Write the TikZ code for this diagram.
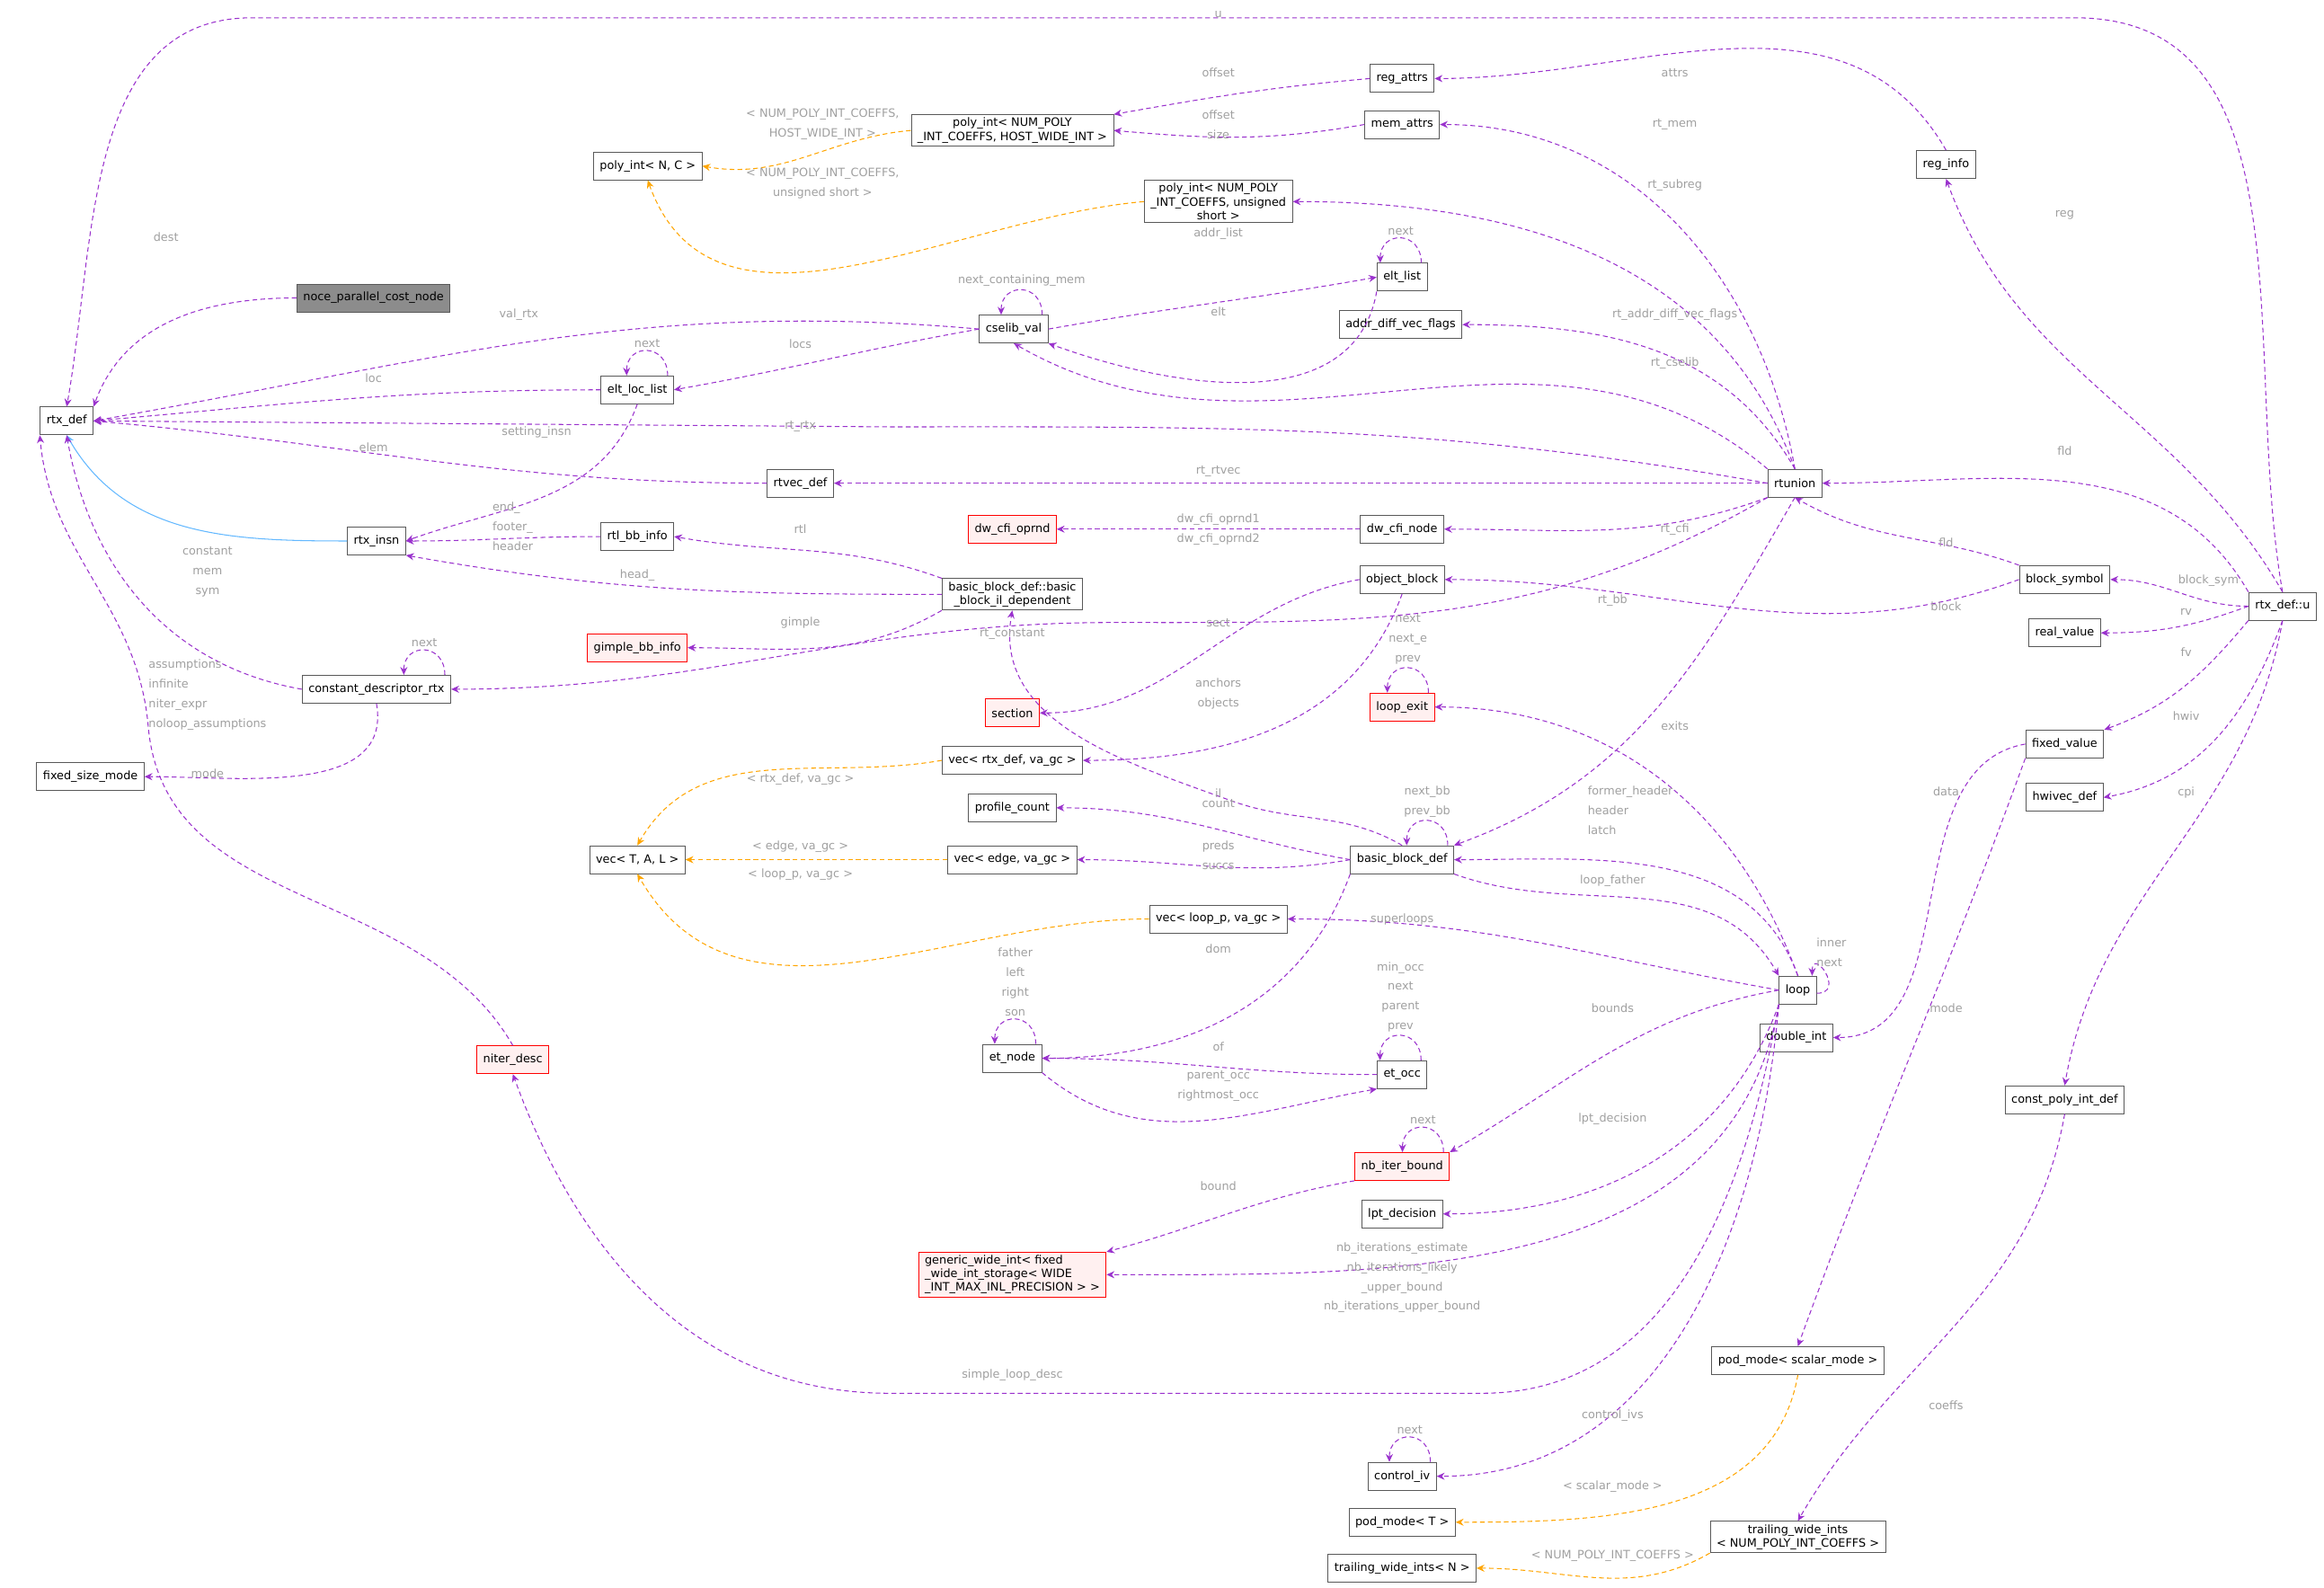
\documentclass[tikz,border=0pt]{standalone}
\usepackage{fontspec}
\setmainfont{DejaVu Sans}
\usetikzlibrary{arrows.meta}
\definecolor{usecol}{HTML}{9A32CD}
\definecolor{tplcol}{HTML}{FFA500}
\definecolor{inhcol}{HTML}{63B8FF}
\definecolor{lblcol}{HTML}{A0A0A0}
\tikzset{
  cls/.style={draw=black!65, line width=0.5pt, fill=white, inner xsep=4pt, inner ysep=2pt,
    minimum height=0.62cm, align=center, font=\fontsize{7.3}{8.6}\selectfont},
  bad/.style={cls, draw=red, fill=red!6},
  use/.style={densely dashed, draw=usecol, line width=0.6pt, -{Stealth[length=5pt,width=4.5pt]}},
  tpl/.style={use, draw=tplcol},
  inh/.style={draw=inhcol, line width=0.6pt, -{Stealth[length=5pt,width=4.5pt]}},
  lbl/.style={text=lblcol, align=center, inner sep=0pt, font=\fontsize{7.3}{12.5}\selectfont},
}
\newcommand{\selfloop}[2]{%
  \draw[use] ([xshift=-4pt]#1.north east) .. controls +(0,-22) and +(0,-22) .. ([xshift=-30pt]#1.north east)
    node[lbl, pos=0.5, anchor=south, yshift=2pt] {#2};}
\begin{document}
\begin{tikzpicture}[x=0.033cm,y=-0.033cm]
\useasboundingbox (0,0) rectangle (1568,1071);
% classes
\node[cls] (rtxdef) at (45,284) {rtx\_def};
\node[cls, fill=black!45] (noce) at (252,201) {noce\_parallel\_cost\_node};
\node[cls] (polyNC) at (437,112) {poly\_int< N, C >};
\node[cls] (polyhwi) at (683,88) {poly\_int< NUM\_POLY\\\_INT\_COEFFS, HOST\_WIDE\_INT >};
\node[cls] (regattrs) at (946,53) {reg\_attrs};
\node[cls] (memattrs) at (946,84) {mem\_attrs};
\node[cls] (polyus) at (822,136) {poly\_int< NUM\_POLY\\\_INT\_COEFFS, unsigned\\short >};
\node[cls] (reginfo) at (1313,111) {reg\_info};
\node[cls] (eltlist) at (946,187) {elt\_list};
\node[cls] (addrdiff) at (945,219) {addr\_diff\_vec\_flags};
\node[cls] (cselib) at (684,222) {cselib\_val};
\node[cls] (eltloc) at (430,263) {elt\_loc\_list};
\node[cls] (rtvec) at (540,326) {rtvec\_def};
\node[cls] (rtunion) at (1211,326) {rtunion};
\node[cls] (rtlbb) at (430,362) {rtl\_bb\_info};
\node[cls] (rtxinsn) at (254,365) {rtx\_insn};
\node[bad] (cfiop) at (683,357) {dw\_cfi\_oprnd};
\node[cls] (cfinode) at (946,357) {dw\_cfi\_node};
\node[cls] (ildep) at (683,401) {basic\_block\_def::basic\\\_block\_il\_dependent};
\node[cls] (objblock) at (946,391) {object\_block};
\node[cls] (blocksym) at (1393,391) {block\_symbol};
\node[cls] (rtxu) at (1540,409) {rtx\_def::u};
\node[cls] (realval) at (1393,427) {real\_value};
\node[bad] (gimplebb) at (430,437) {gimple\_bb\_info};
\node[cls] (constdesc) at (254,465) {constant\_descriptor\_rtx};
\node[bad] (section) at (683,481) {section};
\node[bad] (loopexit) at (946,477) {loop\_exit};
\node[cls] (vecrtx) at (683,513) {vec< rtx\_def, va\_gc >};
\node[cls] (fixedval) at (1393,502) {fixed\_value};
\node[cls] (fixedmode) at (61,524) {fixed\_size\_mode};
\node[cls] (profcount) at (683,545) {profile\_count};
\node[cls] (hwivec) at (1393,538) {hwivec\_def};
\node[cls] (vecTAL) at (430,580) {vec< T, A, L >};
\node[cls] (vecedge) at (683,580) {vec< edge, va\_gc >};
\node[cls] (bbdef) at (946,580) {basic\_block\_def};
\node[cls] (vecloop) at (822,620) {vec< loop\_p, va\_gc >};
\node[cls] (loop) at (1213,668) {loop};
\node[cls] (etnode) at (683,714) {et\_node};
\node[cls] (etocc) at (946,725) {et\_occ};
\node[cls] (doubleint) at (1212,700) {double\_int};
\node[bad] (niter) at (346,715) {niter\_desc};
\node[cls] (cpoly) at (1393,742) {const\_poly\_int\_def};
\node[bad] (nbiter) at (946,787) {nb\_iter\_bound};
\node[cls] (lpt) at (946,819) {lpt\_decision};
\node[bad, align=left] (gwi) at (683,860) {generic\_wide\_int< fixed\\\_wide\_int\_storage< WIDE\\\_INT\_MAX\_INL\_PRECISION > >};
\node[cls] (podscalar) at (1213,918) {pod\_mode< scalar\_mode >};
\node[cls] (controliv) at (946,996) {control\_iv};
\node[cls] (podT) at (946,1027) {pod\_mode< T >};
\node[cls] (twinum) at (1213,1037) {trailing\_wide\_ints\\< NUM\_POLY\_INT\_COEFFS >};
\node[cls] (twiN) at (946,1058) {trailing\_wide\_ints< N >};
% connectors
\draw[use] (rtxu.north) to[out=100,in=0] (1400,12) -- (170,12) to[out=180,in=80] (rtxdef.north);
\draw[use] (noce.west) to[out=180,in=70] (rtxdef.north east);
\draw[use] (cselib.west) to[out=175,in=10] (rtxdef.east);
\draw[use] (eltloc.west) to[out=180,in=5] (rtxdef.east);
\draw[use] (rtunion.west) to[out=170,in=0] (600,288) -- (rtxdef.east);
\draw[use] (rtvec.west) to[out=180,in=-5] (rtxdef.east);
\draw[inh] (rtxinsn.west) to[out=180,in=-60] (rtxdef.south);
\draw[use] (constdesc.west) to[out=170,in=-80] (rtxdef.south);
\draw[use] (niter.north) to[out=120,in=-85] (100,490) to[out=95,in=-85] (rtxdef.south west);
\draw[tpl] (polyhwi.west) to[out=185,in=-10] (polyNC.east);
\draw[tpl] (polyus.west) to[out=185,in=-70] (polyNC.south);
\draw[use] (regattrs.west) to[out=185,in=10] (polyhwi.north east);
\draw[use] (memattrs.west) to[out=190,in=-5] (polyhwi.east);
\draw[use] (reginfo.north) to[out=120,in=0] (regattrs.east);
\draw[use] (rtunion.north) to[out=100,in=0] (memattrs.east);
\draw[use] (rtunion.north) to[out=110,in=0] (polyus.east);
\draw[use] (rtxu.north) to[out=120,in=-70] (reginfo.south);
\selfloop{eltlist}{next}
\draw[use] (cselib.east) to[out=10,in=190] (eltlist.west);
\draw[use] (eltlist.south west) to[out=-100,in=-20] (cselib.south east);
\selfloop{cselib}{next\_containing\_mem}
\draw[use] (cselib.west) to[out=190,in=10] (eltloc.east);
\selfloop{eltloc}{next}
\draw[use] (rtunion.north) to[out=120,in=0] (addrdiff.east);
\draw[use] (rtunion.north west) to[out=140,in=-30] (cselib.south);
\draw[use] (eltloc.south) to[out=-110,in=20] (rtxinsn.east);
\draw[use] (rtunion.west) to[out=180,in=0] (rtvec.east);
\draw[use] (rtlbb.west) to[out=180,in=0] (rtxinsn.east);
\draw[use] (ildep.west) to[out=180,in=-10] (rtxinsn.south east);
\draw[use] (ildep.north west) to[out=160,in=-10] (rtlbb.east);
\draw[use] (ildep.south west) to[out=-150,in=0] (gimplebb.east);
\draw[use] (cfinode.west) to[out=180,in=0] (cfiop.east);
\draw[use] (rtunion.south west) to[out=-160,in=0] (cfinode.east);
\draw[use] (rtunion.south west) to[out=-150,in=0] (750,420) to[out=180,in=0] (constdesc.east);
\selfloop{constdesc}{next}
\draw[use] (constdesc.south) to[out=-80,in=0] (fixedmode.east);
\draw[use] (rtunion.south) to[out=-120,in=20] (bbdef.north east);
\draw[use] (blocksym.north west) to[out=160,in=-30] (rtunion.south);
\draw[use] (rtxu.north west) to[out=120,in=0] (rtunion.east);
\draw[use] (blocksym.west) to[out=200,in=0] (objblock.east);
\draw[use] (rtxu.west) to[out=180,in=0] (blocksym.east);
\draw[use] (rtxu.west) to[out=200,in=0] (realval.east);
\draw[use] (rtxu.south west) to[out=-130,in=20] (fixedval.north east);
\draw[use] (rtxu.south) to[out=-110,in=10] (hwivec.east);
\draw[use] (rtxu.south) to[out=-100,in=80] (cpoly.north);
\draw[use] (objblock.west) to[out=190,in=0] (section.east);
\draw[use] (objblock.south) to[out=-110,in=0] (vecrtx.east);
\selfloop{loopexit}{next\\next\_e\\prev}
\draw[use] (loop.north) to[out=110,in=0] (loopexit.east);
\draw[use] (bbdef.north) to[out=150,in=-20] (830,540) to[out=160,in=-100] (ildep.south);
\draw[tpl] (vecrtx.west) to[out=190,in=60] (vecTAL.north);
\draw[tpl] (vecedge.west) to[out=180,in=0] (vecTAL.east);
\draw[tpl] (vecloop.west) to[out=180,in=-60] (vecTAL.south);
\draw[use] (bbdef.west) to[out=170,in=0] (profcount.east);
\draw[use] (bbdef.west) to[out=190,in=0] (vecedge.east);
\selfloop{bbdef}{next\_bb\\prev\_bb}
\draw[use] (loop.north) to[out=110,in=0] (bbdef.east);
\draw[use] (bbdef.south east) to[out=-20,in=120] (loop.north west);
\draw[use] (loop.west) to[out=170,in=0] (vecloop.east);
\draw[use] ([yshift=-2pt]loop.east) .. controls +(20,0) and +(0,-20) .. ([xshift=-3pt]loop.north east)
  node[lbl, align=left, pos=0.5, anchor=south west, yshift=4pt, xshift=-6pt] {inner\\next};
\draw[use] (bbdef.south west) to[out=-110,in=0] (etnode.east);
\selfloop{etnode}{father\\left\\right\\son}
\draw[use] (etocc.west) to[out=180,in=0] (etnode.east);
\draw[use] (etnode.south east) to[out=-40,in=190] (etocc.south west);
\selfloop{etocc}{min\_occ\\next\\parent\\prev}
\draw[use] (loop.west) to[out=190,in=30] (nbiter.north east);
\selfloop{nbiter}{next}
\draw[use] (nbiter.south west) to[out=190,in=15] (gwi.north east);
\draw[use] (loop.south west) to[out=-100,in=0] (gwi.east);
\draw[use] (loop.south west) to[out=-110,in=0] (lpt.east);
\draw[use] (loop.south west) to[out=-100,in=0] (1000,940) -- (600,940) to[out=180,in=-70] (niter.south);
\draw[use] (loop.south west) to[out=-95,in=0] (controliv.east);
\selfloop{controliv}{next}
\draw[use] (fixedval.west) to[out=190,in=0] (doubleint.east);
\draw[use] (fixedval.south west) to[out=-110,in=70] (podscalar.north);
\draw[tpl] (podscalar.south) to[out=-100,in=0] (podT.east);
\draw[use] (cpoly.south) to[out=-100,in=60] (twinum.north);
\draw[tpl] (twinum.south west) to[out=-150,in=0] (twiN.east);
% labels
\node[lbl] at (822,10) {u};
\node[lbl] at (112,160) {dest};
\node[lbl] at (350,212) {val\_rtx};
\node[lbl] at (252,255) {loc};
\node[lbl] at (362,292) {setting\_insn};
\node[lbl] at (540,288) {rt\_rtx};
\node[lbl] at (252,302) {elem};
\node[lbl] at (140,386) {constant\\mem\\sym};
\node[lbl, align=left] at (140,469) {assumptions\\infinite\\niter\_expr\\noloop\_assumptions};
\node[lbl] at (140,522) {mode};
\node[lbl] at (822,49) {offset};
\node[lbl] at (822,84) {offset\\size};
\node[lbl] at (1130,49) {attrs};
\node[lbl] at (1130,84) {rt\_mem};
\node[lbl] at (1130,125) {rt\_subreg};
\node[lbl] at (1393,145) {reg};
\node[lbl] at (555,84) {< NUM\_POLY\_INT\_COEFFS,\\HOST\_WIDE\_INT >};
\node[lbl] at (555,124) {< NUM\_POLY\_INT\_COEFFS,\\unsigned short >};
\node[lbl] at (822,158) {addr\_list};
\node[lbl] at (822,210) {elt};
\node[lbl] at (540,232) {locs};
\node[lbl] at (1130,212) {rt\_addr\_diff\_vec\_flags};
\node[lbl] at (1130,245) {rt\_cselib};
\node[lbl] at (822,318) {rt\_rtvec};
\node[lbl] at (1393,304) {fld};
\node[lbl] at (1313,366) {fld};
\node[lbl] at (1130,357) {rt\_cfi};
\node[lbl] at (822,357) {dw\_cfi\_oprnd1\\dw\_cfi\_oprnd2};
\node[lbl, align=left] at (346,355) {end\_\\footer\_\\header};
\node[lbl] at (540,357) {rtl};
\node[lbl] at (430,388) {head\_};
\node[lbl] at (540,420) {gimple};
\node[lbl] at (683,428) {rt\_constant};
\node[lbl] at (1088,405) {rt\_bb};
\node[lbl] at (1313,409) {block};
\node[lbl] at (1490,392) {block\_sym};
\node[lbl] at (1475,413) {rv};
\node[lbl] at (1475,440) {fv};
\node[lbl] at (1475,483) {hwiv};
\node[lbl] at (1475,535) {cpi};
\node[lbl] at (1313,534) {data};
\node[lbl] at (1313,680) {mode};
\node[lbl] at (822,420) {sect};
\node[lbl] at (822,468) {anchors\\objects};
\node[lbl] at (1130,490) {exits};
\node[lbl] at (822,535) {il};
\node[lbl] at (540,526) {< rtx\_def, va\_gc >};
\node[lbl] at (540,571) {< edge, va\_gc >};
\node[lbl] at (540,590) {< loop\_p, va\_gc >};
\node[lbl] at (822,542) {count};
\node[lbl] at (822,577) {preds\\succs};
\node[lbl, align=left] at (1100,547) {former\_header\\header\\latch};
\node[lbl] at (1088,594) {loop\_father};
\node[lbl] at (946,620) {superloops};
\node[lbl] at (822,640) {dom};
\node[lbl] at (822,706) {of};
\node[lbl] at (822,733) {parent\_occ\\rightmost\_occ};
\node[lbl] at (1088,680) {bounds};
\node[lbl] at (1088,755) {lpt\_decision};
\node[lbl] at (822,800) {bound};
\node[lbl] at (946,862) {nb\_iterations\_estimate\\nb\_iterations\_likely\\\_upper\_bound\\nb\_iterations\_upper\_bound};
\node[lbl] at (683,928) {simple\_loop\_desc};
\node[lbl] at (1088,955) {control\_ivs};
\node[lbl] at (1088,1003) {< scalar\_mode >};
\node[lbl] at (1313,948) {coeffs};
\node[lbl] at (1088,1050) {< NUM\_POLY\_INT\_COEFFS >};
\end{tikzpicture}
\end{document}
